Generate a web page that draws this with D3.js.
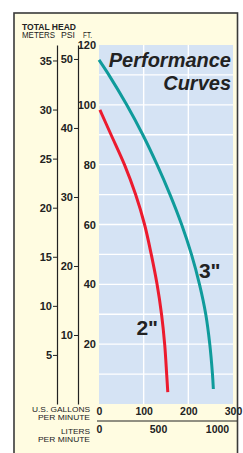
<!DOCTYPE html>
<html><head><meta charset="utf-8">
<script src="https://cdn.jsdelivr.net/npm/d3@7"></script>
<style>
html,body{margin:0;padding:0;background:#fff;}
svg{display:block;}
text{font-family:"Liberation Sans Narrow","Arial Narrow","Liberation Sans",Arial,sans-serif;fill:#222;}
</style></head><body>
<svg id="c" width="243" height="453"></svg>
<script>
// ---- data ----
const gpmTicks = [0, 100, 200, 300];
const literTicks = [0, 500, 1000];
const ftTicks = [20, 40, 60, 80, 100, 120];
const meterTicks = [5, 10, 15, 20, 25, 30, 35];
const psiTicks = [10, 20, 30, 40, 50];
const curve2Gpm  = [2, 27, 57, 82, 102, 117, 130, 140, 147, 151.5, 154];
const curve2Head = [98.3, 90, 80, 70, 60, 50, 40, 30, 20, 10, 4];
const curve3Gpm  = [0, 22, 62, 98, 130, 159, 185, 207, 225, 239, 248, 254, 256];
const curve3Head = [115, 110, 100, 90, 80, 70, 60, 50, 40, 30, 20, 10, 5];
const seriesNames = ['2"', '3"'];
const seriesLabelAt = [[108, 23], [248, 42]];

const FT_PER_M = 3.2808, FT_PER_PSI = 2.3067, L_PER_GAL = 3.78541;

const svg = d3.select('#c');
const x = d3.scaleLinear([0, 300], [99, 233]);
const xL = d3.scaleLinear([0, 300 * L_PER_GAL], [99, 233]);
const y = d3.scaleLinear([0, 120], [404, 45]);
const yM = d3.scaleLinear([0, 120 / FT_PER_M], [404, 45]);
const yP = d3.scaleLinear([0, 120 / FT_PER_PSI], [404, 45]);

// frame
svg.append('rect').attr('x', 14).attr('y', 13).attr('width', 223.5).attr('height', 460)
  .attr('fill', '#fffce1').attr('stroke', '#3a3a3a').attr('stroke-width', 1.6);

// plot background
svg.append('rect').attr('x', x(0)).attr('y', y(120)).attr('width', x(300) - x(0)).attr('height', y(0) - y(120))
  .attr('fill', '#d5e3f4');

// grid
const g = svg.append('g').attr('stroke', '#fff').attr('stroke-width', 1.4);
g.selectAll('.h').data(y.ticks(12).filter(d => d > 0 && d < 120)).join('line')
  .attr('x1', x(0)).attr('x2', x(300)).attr('y1', d => y(d)).attr('y2', d => y(d));
g.selectAll('.v').data(gpmTicks.filter(d => d > 0 && d < 300)).join('line')
  .attr('y1', y(0)).attr('y2', y(120)).attr('x1', d => x(d)).attr('x2', d => x(d));

// title
const tf = 'Liberation Sans, Arial, sans-serif';
svg.append('text').attr('x', 231).attr('y', 67).attr('text-anchor', 'end')
  .style('font-family', tf).style('font-weight', 'bold').style('font-style', 'italic').style('font-size', '20px').text('Performance');
svg.append('text').attr('x', 231).attr('y', 90).attr('text-anchor', 'end')
  .style('font-family', tf).style('font-weight', 'bold').style('font-style', 'italic').style('font-size', '20px').text('Curves');

// curves
const line = d3.line().x(d => x(d[0])).y(d => y(d[1])).curve(d3.curveCatmullRom.alpha(0.5));
const pts2 = curve2Gpm.map((v, i) => [v, curve2Head[i]]);
const pts3 = curve3Gpm.map((v, i) => [v, curve3Head[i]]);
svg.append('path').attr('d', line(pts2)).attr('fill', 'none').attr('stroke', '#ec1b2e').attr('stroke-width', 3);
svg.append('path').attr('d', line(pts3)).attr('fill', 'none').attr('stroke', '#0f9b9b').attr('stroke-width', 3);
seriesNames.forEach((n, i) => {
  svg.append('text').attr('x', x(seriesLabelAt[i][0])).attr('y', y(seriesLabelAt[i][1])).attr('text-anchor', 'middle')
    .style('font-family', tf).style('font-weight', 'bold').style('font-size', '21px').text(n);
});

// left axes
function styleAxis(sel, size) {
  sel.selectAll('text').style('font-size', size).style('font-weight', 'bold').attr('fill', '#222');
  sel.selectAll('line').attr('stroke', '#222');
  sel.select('.domain').attr('stroke', '#222').attr('stroke-width', 1.2);
}
const aM = svg.append('g').attr('transform', 'translate(57,0)')
  .call(d3.axisLeft(yM).tickValues(meterTicks).tickSize(4).tickSizeOuter(0).tickPadding(1));
styleAxis(aM, '11px');
const aP = svg.append('g').attr('transform', 'translate(78,0)')
  .call(d3.axisLeft(yP).tickValues(psiTicks).tickSize(4).tickSizeOuter(0).tickPadding(1));
styleAxis(aP, '11px');
const aF = svg.append('g').attr('transform', 'translate(97,0)')
  .call(d3.axisLeft(y).tickValues(ftTicks).tickSize(0).tickPadding(1));
aF.select('.domain').remove();
styleAxis(aF, '11px');

// bottom axes
const aG = svg.append('g').attr('transform', 'translate(0,404)')
  .call(d3.axisBottom(x).tickValues(gpmTicks).tickFormat(d3.format('d')).tickSize(0).tickPadding(4));
aG.select('.domain').remove();
styleAxis(aG, '10.5px');
const aL = svg.append('g').attr('transform', 'translate(0,422)')
  .call(d3.axisBottom(xL).tickValues(literTicks).tickFormat(d3.format('d')).tickSize(0).tickPadding(3.5));
aL.select('.domain').remove();
styleAxis(aL, '10.5px');
svg.append('line').attr('x1', 97).attr('x2', 237).attr('y1', 421).attr('y2', 421).attr('stroke', '#222').attr('stroke-width', 1);

// header labels
function lab(t, xx, yy, w, size, bold, anchor) {
  svg.append('text').attr('x', xx).attr('y', yy).attr('text-anchor', anchor || 'start')
    .attr('textLength', w).attr('lengthAdjust', 'spacingAndGlyphs')
    .style('font-size', size).style('font-weight', bold ? 'bold' : 'normal').text(t);
}
lab('TOTAL HEAD', 22, 29.5, 54, '9.5px', true);
lab('METERS', 22, 38.3, 33, '9px', false);
lab('PSI', 61, 38.3, 14, '9px', false);
lab('FT.', 83, 38.3, 9, '9px', false);

// bottom labels
lab('U.S. GALLONS', 90, 412.3, 58, '8px', false, 'end');
lab('PER MINUTE', 90, 420.3, 52, '8px', false, 'end');
lab('LITERS', 90, 433.5, 29, '8px', false, 'end');
lab('PER MINUTE', 90, 442, 52, '8px', false, 'end');
</script>
</body></html>
